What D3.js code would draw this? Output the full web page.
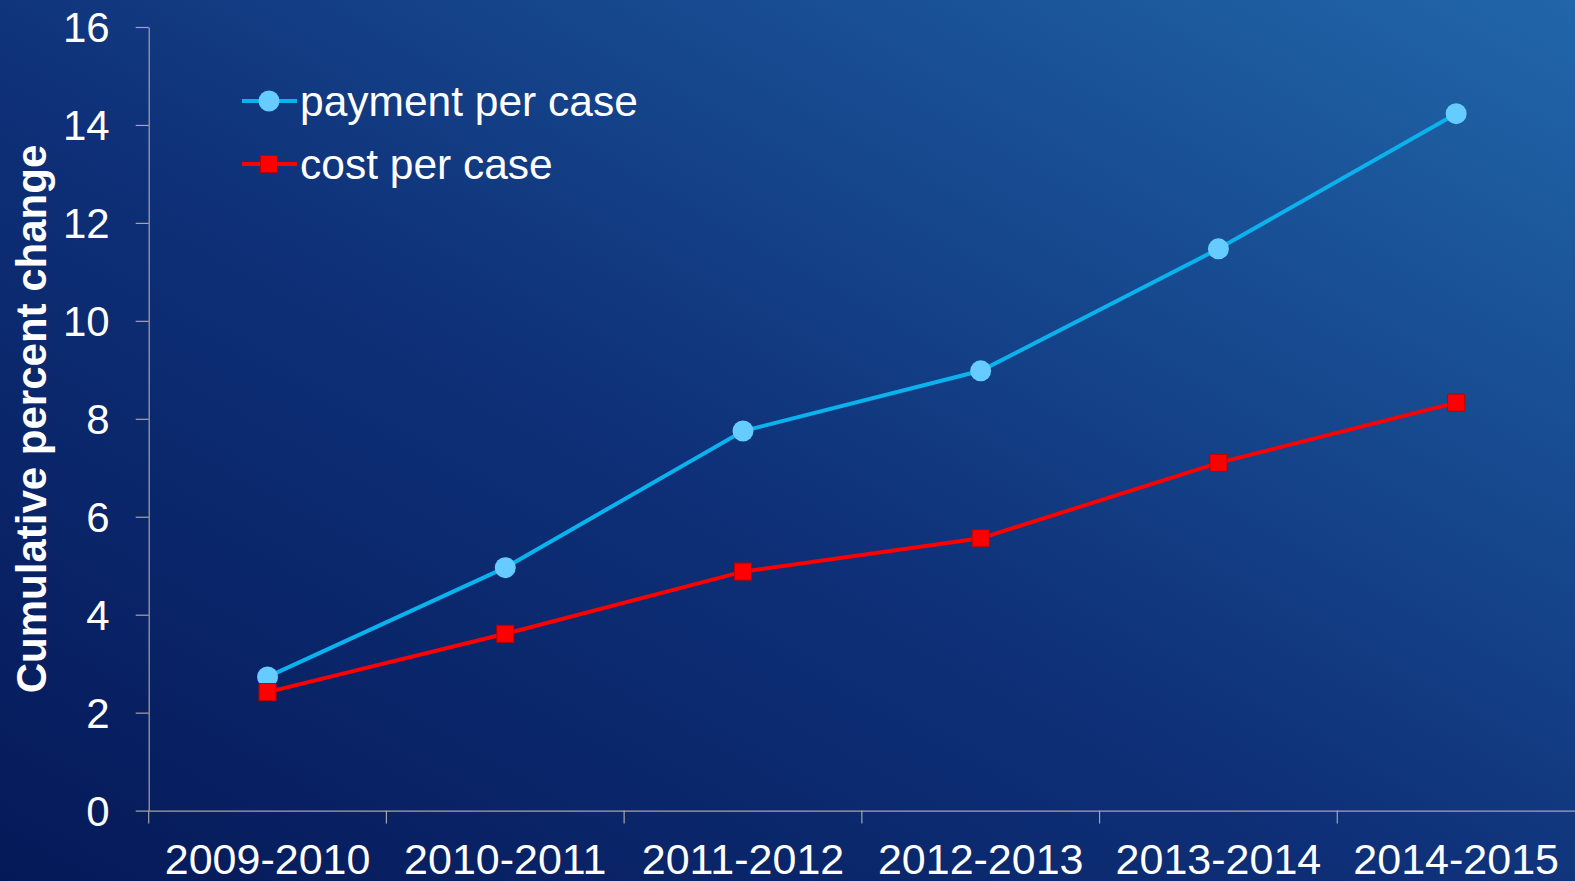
<!DOCTYPE html>
<html>
<head>
<meta charset="utf-8">
<script src="https://cdn.jsdelivr.net/npm/d3@7"></script>
<style>
  html, body { margin: 0; padding: 0; overflow: hidden; }
  svg { display: block; font-family: "Liberation Sans", Arial, sans-serif; }
</style>
</head>
<body>
<svg id="chart"></svg>
<script>
// Data
const periods = ["2009-2010", "2010-2011", "2011-2012", "2012-2013", "2013-2014", "2014-2015"];
const paymentPerCase = [2.73, 4.96, 7.75, 8.98, 11.47, 14.23];
const costPerCase = [2.42, 3.61, 4.88, 5.56, 7.10, 8.33];
const yTicks = [0, 2, 4, 6, 8, 10, 12, 14, 16];

const W = 1575, H = 881;
const margin = { top: 27, right: 0, bottom: 71, left: 148.7 };

const svg = d3.select('#chart')
    .attr('width', W)
    .attr('height', H);

// Background gradient (dark navy bottom-left to lighter blue top-right)
const defs = svg.append('defs');
const grad = defs.append('linearGradient')
    .attr('id', 'bg')
    .attr('x1', '0%').attr('y1', '100%')
    .attr('x2', '100%').attr('y2', '0%');
grad.append('stop').attr('offset', '0%').attr('stop-color', '#051958');
grad.append('stop').attr('offset', '45%').attr('stop-color', '#0e3078');
grad.append('stop').attr('offset', '100%').attr('stop-color', '#2166a9');

svg.append('rect')
    .attr('width', W)
    .attr('height', H)
    .attr('fill', 'url(#bg)');

const x = d3.scaleBand()
    .domain(periods)
    .range([margin.left, W - margin.right]);

const y = d3.scaleLinear()
    .domain([0, 16])
    .range([H - margin.bottom + 0.6, margin.top]);

// Y axis
const yAxis = svg.append('g')
    .attr('transform', `translate(${margin.left},0)`)
    .call(d3.axisLeft(y).tickValues(yTicks).tickSize(13).tickPadding(26).tickSizeOuter(0));
yAxis.select('.domain').attr('stroke', '#a6a6a6').attr('stroke-width', 1.2);
yAxis.selectAll('.tick line').attr('stroke', '#a6a6a6').attr('stroke-width', 1.2);
yAxis.selectAll('.tick text')
    .attr('fill', '#ffffff')
    .style('font-size', '42px')
    .attr('dy', '0.35em');

// X axis
const xAxis = svg.append('g')
    .attr('transform', `translate(0,${y(0)})`)
    .call(d3.axisBottom(x).tickSize(0).tickPadding(0).tickSizeOuter(0));
xAxis.select('.domain').attr('stroke', '#a6a6a6').attr('stroke-width', 1.2);
xAxis.selectAll('.tick text')
    .attr('fill', '#ffffff')
    .style('font-size', '43px')
    .attr('dy', null)
    .attr('y', 63);
// Tick marks at category boundaries
xAxis.selectAll('.boundary')
    .data(periods)
    .join('line')
    .attr('class', 'boundary')
    .attr('x1', d => x(d))
    .attr('x2', d => x(d))
    .attr('y1', 0)
    .attr('y2', 13)
    .attr('stroke', '#a6a6a6')
    .attr('stroke-width', 1.2);

// Y axis title
svg.append('text')
    .attr('transform', `translate(46,419) rotate(-90)`)
    .attr('text-anchor', 'middle')
    .attr('fill', '#ffffff')
    .style('font-size', '42px')
    .style('font-weight', 'bold')
    .text('Cumulative percent change');

const cx = d => x(d) + x.bandwidth() / 2;

const line = d3.line()
    .x((d, i) => cx(periods[i]))
    .y(d => y(d));

// Cost per case line
svg.append('path')
    .datum(costPerCase)
    .attr('fill', 'none')
    .attr('stroke', '#ff0000')
    .attr('stroke-width', 4)
    .attr('d', line);

// Payment per case line
svg.append('path')
    .datum(paymentPerCase)
    .attr('fill', 'none')
    .attr('stroke', '#0ab2ee')
    .attr('stroke-width', 4)
    .attr('d', line);

svg.append('g')
    .selectAll('circle')
    .data(paymentPerCase)
    .join('circle')
    .attr('cx', (d, i) => cx(periods[i]))
    .attr('cy', d => y(d))
    .attr('r', 10.5)
    .attr('fill', '#66ccff');

const sq = 17;
svg.append('g')
    .selectAll('rect')
    .data(costPerCase)
    .join('rect')
    .attr('x', (d, i) => cx(periods[i]) - sq / 2)
    .attr('y', d => y(d) - sq / 2)
    .attr('width', sq)
    .attr('height', sq)
    .attr('fill', '#ff0000')
    .attr('stroke', '#c00000')
    .attr('stroke-width', 1);

// Legend
const legendItems = [
    { label: 'payment per case', color: '#0ab2ee', marker: 'circle', y: 101 },
    { label: 'cost per case', color: '#ff0000', marker: 'square', y: 164 }
];
const legend = svg.append('g');
legendItems.forEach(item => {
    const g = legend.append('g').attr('transform', `translate(0,${item.y})`);
    g.append('line')
        .attr('x1', 242).attr('x2', 297)
        .attr('y1', 0).attr('y2', 0)
        .attr('stroke', item.color)
        .attr('stroke-width', 4);
    if (item.marker === 'circle') {
        g.append('circle').attr('cx', 269).attr('cy', 0).attr('r', 10.5).attr('fill', '#66ccff');
    } else {
        g.append('rect')
            .attr('x', 269 - sq / 2).attr('y', -sq / 2)
            .attr('width', sq).attr('height', sq)
            .attr('fill', '#ff0000').attr('stroke', '#c00000');
    }
    g.append('text')
        .attr('x', 300)
        .attr('y', 0)
        .attr('dy', '0.35em')
        .attr('fill', '#ffffff')
        .style('font-size', '42.5px')
        .text(item.label);
});
</script>
</body>
</html>
